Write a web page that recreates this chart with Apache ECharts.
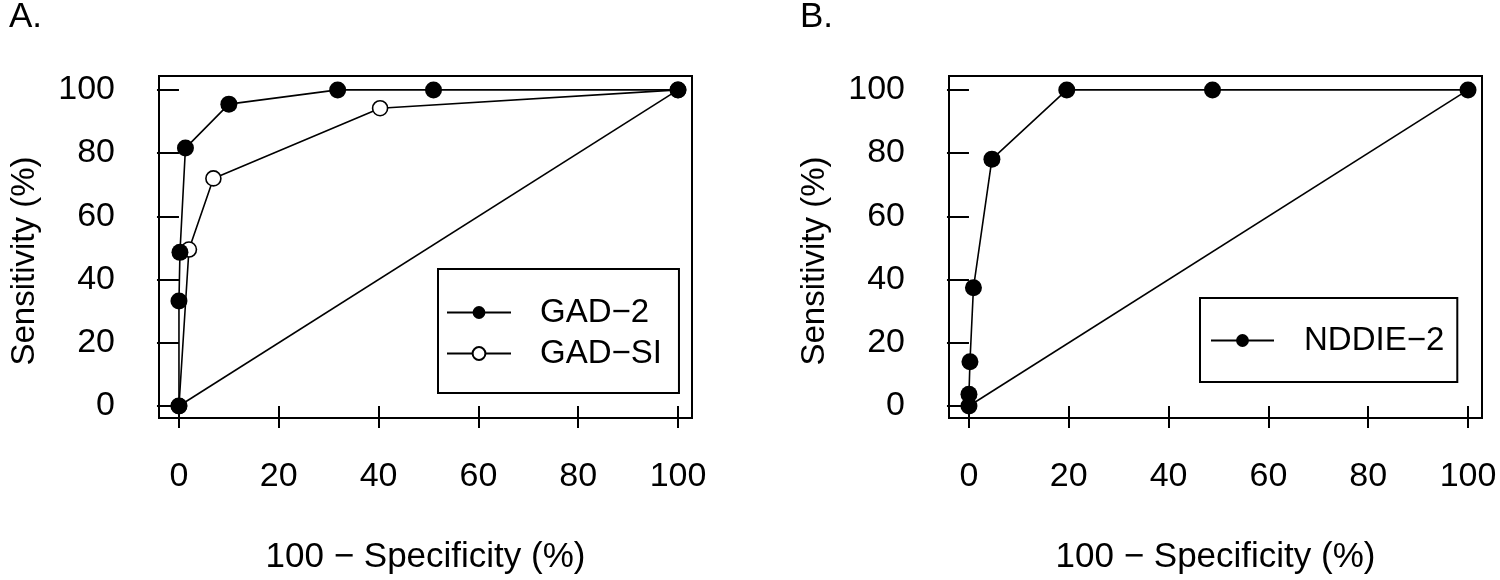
<!DOCTYPE html>
<html>
<head>
<meta charset="utf-8">
<script src="https://cdn.jsdelivr.net/npm/echarts@6/dist/echarts.min.js"></script>
<style>
html,body{margin:0;padding:0;background:#fff;}
#c{width:1500px;height:580px;}
</style>
</head>
<body>
<div id="c"></div>
<script>
// ---- data ----
const tickValues = [0, 20, 40, 60, 80, 100];
const gad2X = [0, 0, 0.2, 1.3, 10, 31.8, 51, 100];
const gad2Y = [0, 33.2, 48.6, 81.6, 95.5, 100, 100, 100];
const gadsiX = [0, 2.0, 6.9, 40.3, 100];
const gadsiY = [0, 49.5, 72, 94.2, 100];
const nddieX = [0, 0, 0.2, 0.9, 4.6, 19.6, 48.8, 100];
const nddieY = [0, 3.7, 14, 37.4, 78.1, 100, 100, 100];
const diagX = [0, 100];
const diagY = [0, 100];
const panelTitles = ['A.', 'B.'];
const xTitle = '100 \u2212 Specificity (%)';
const yTitle = 'Sensitivity (%)';
const nameGAD2 = 'GAD\u22122';
const nameGADSI = 'GAD\u2212SI';
const nameNDDIE = 'NDDIE\u22122';

const zip = (xs, ys) => xs.map((x, i) => [x, ys[i]]);
const FONT = '"Liberation Sans", Arial, Helvetica, sans-serif';
const AXFS = 34;

function xAxisCfg(gridIndex) {
  return {
    type: 'value', gridIndex, min: -4, max: 102.8,
    axisLine: { show: false },
    splitLine: { show: false },
    axisTick: { show: true, length: 22, inside: false, customValues: tickValues,
      lineStyle: { color: '#000', width: 2 } },
    axisLabel: { customValues: tickValues, margin: 42, fontSize: AXFS, color: '#000', fontFamily: FONT },
    name: xTitle, nameLocation: 'middle', nameGap: 122,
    nameTextStyle: { fontSize: 35, color: '#000', fontFamily: FONT }
  };
}
function yAxisCfg(gridIndex) {
  return {
    type: 'value', gridIndex, min: -3.8, max: 104.4,
    axisLine: { show: false },
    splitLine: { show: false },
    axisTick: { show: true, length: 22, inside: false, customValues: tickValues,
      lineStyle: { color: '#000', width: 2 } },
    axisLabel: { customValues: tickValues, margin: 44, fontSize: AXFS, color: '#000', fontFamily: FONT },
    name: yTitle, nameLocation: 'middle', nameGap: 118, nameRotate: 90,
    nameTextStyle: { fontSize: 33, color: '#000', fontFamily: FONT, padding: [0, 28, 0, 0] }
  };
}

const lineStyle = { color: '#000', width: 1.6 };

const option = {
  backgroundColor: '#fff',
  animation: false,
  textStyle: { fontFamily: FONT },
  grid: [
    { left: 159, top: 76, width: 533, height: 342, show: true, borderColor: '#000', borderWidth: 2, backgroundColor: 'transparent' },
    { left: 949, top: 76, width: 533, height: 342, show: true, borderColor: '#000', borderWidth: 2, backgroundColor: 'transparent' }
  ],
  xAxis: [xAxisCfg(0), xAxisCfg(1)],
  yAxis: [yAxisCfg(0), yAxisCfg(1)],
  legend: [
    {
      data: [nameGAD2, nameGADSI],
      orient: 'vertical', left: 438, top: 269,
      padding: [27, 17, 23, 8], itemGap: 8,
      itemWidth: 64, itemHeight: 16,
      borderColor: '#000', borderWidth: 2, backgroundColor: '#fff',
      textStyle: { fontSize: 33, color: '#000', fontFamily: FONT, padding: [0, 0, 0, 24] },
      selectedMode: false
    },
    {
      data: [nameNDDIE],
      orient: 'vertical', left: 1200, top: 298,
      padding: [26, 13, 25, 10], itemGap: 8,
      itemWidth: 63, itemHeight: 16,
      borderColor: '#000', borderWidth: 2, backgroundColor: '#fff',
      textStyle: { fontSize: 33, color: '#000', fontFamily: FONT, padding: [0, 0, 0, 25] },
      selectedMode: false
    }
  ],
  graphic: [
    { type: 'text', left: 9, top: 0, style: { text: panelTitles[0], font: '35px ' + FONT, fill: '#000' } },
    { type: 'text', left: 800, top: 0, style: { text: panelTitles[1], font: '35px ' + FONT, fill: '#000' } }
  ],
  series: [
    { type: 'line', xAxisIndex: 0, yAxisIndex: 0, data: zip(diagX, diagY), symbol: 'none',
      lineStyle: lineStyle, silent: true, z: 1 },
    { type: 'line', xAxisIndex: 1, yAxisIndex: 1, data: zip(diagX, diagY), symbol: 'none',
      lineStyle: lineStyle, silent: true, z: 1 },
    { name: nameGADSI, type: 'line', xAxisIndex: 0, yAxisIndex: 0, data: zip(gadsiX, gadsiY),
      symbol: 'circle', symbolSize: 15, lineStyle: lineStyle,
      itemStyle: { color: '#fff', borderColor: '#000', borderWidth: 1.6 }, z: 2 },
    { name: nameGAD2, type: 'line', xAxisIndex: 0, yAxisIndex: 0, data: zip(gad2X, gad2Y),
      symbol: 'circle', symbolSize: 17, lineStyle: lineStyle,
      itemStyle: { color: '#000', borderColor: '#000', borderWidth: 0 }, z: 3 },
    { name: nameNDDIE, type: 'line', xAxisIndex: 1, yAxisIndex: 1, data: zip(nddieX, nddieY),
      symbol: 'circle', symbolSize: 17, lineStyle: lineStyle,
      itemStyle: { color: '#000', borderColor: '#000', borderWidth: 0 }, z: 3 }
  ]
};

const chart = echarts.init(document.getElementById('c'), null, { renderer: 'canvas' });
chart.setOption(option);
</script>
</body>
</html>
